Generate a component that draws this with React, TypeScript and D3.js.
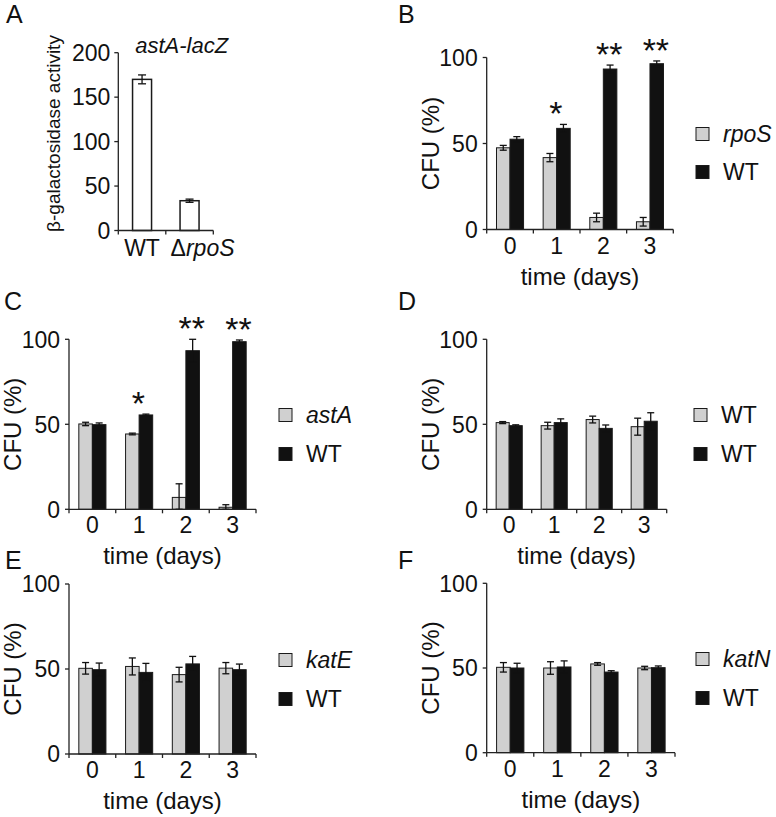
import React from "react";
import * as d3 from "d3";

// ---------- data ----------
const days = ["0", "1", "2", "3"];
const yTicksCFU = [0, 50, 100];

const aCategories = ["WT", "ΔrpoS"];
const aValues = [170, 33.5];
const aErrors = [5, 1.8];
const aTicks = [0, 50, 100, 150, 200];

const bMutant = "rpoS";
const bMutValues = [47.5, 41.8, 7, 4.5];
const bMutErr = [1.4, 2.4, 2.5, 2.5];
const bWtValues = [52.5, 58.8, 93.3, 96.4];
const bWtErr = [1.5, 2.3, 2.3, 1.6];
const bStars = ["", "*", "**", "**"];

const cMutant = "astA";
const cMutValues = [50.2, 44.3, 7, 1.2];
const cMutErr = [1, 0.5, 8, 1.5];
const cWtValues = [49.8, 55.5, 93.3, 98.6];
const cWtErr = [1, 0.5, 6.7, 1];
const cStars = ["", "*", "**", "**"];

const dMutant = "WT";
const dMutValues = [51, 49.2, 52.8, 48.6];
const dMutErr = [0.6, 2, 2, 5];
const dWtValues = [49.2, 51, 47.6, 51.8];
const dWtErr = [0.5, 2.2, 2, 5];

const eMutant = "katE";
const eMutValues = [50.4, 51.5, 46.7, 50.5];
const eMutErr = [3.4, 5, 4.3, 3.3];
const eWtValues = [49.6, 48, 53, 49.6];
const eWtErr = [3.9, 5.3, 4.4, 3.3];

const fMutant = "katN";
const fMutValues = [50.4, 50, 52.4, 50];
const fMutErr = [2.8, 3.7, 0.8, 1];
const fWtValues = [50, 50.6, 47.6, 50.2];
const fWtErr = [2.8, 3.6, 0.8, 1];

// ---------- styles ----------
const FONT = "'Liberation Sans', Arial, Helvetica, sans-serif";
const INK = "#111";
const GRAY = "#d0d0d0";
const BLACK = "#111";

type PanelCfg = {
  letter: string;
  lx: number;
  ly: number;
  x0: number;
  x1: number;
  yTop: number;
  yBot: number;
  mutant: string;
  mutItalic: boolean;
  mutValues: number[];
  mutErr: number[];
  wtValues: number[];
  wtErr: number[];
  stars?: string[];
  legendX: number;
  legendY: number[];
};

const panels: PanelCfg[] = [
  { letter: "B", lx: 398, ly: 23, x0: 486.7, x1: 673.3, yTop: 57.5, yBot: 229.5, mutant: bMutant, mutItalic: true, mutValues: bMutValues, mutErr: bMutErr, wtValues: bWtValues, wtErr: bWtErr, stars: bStars, legendX: 696, legendY: [134, 172] },
  { letter: "C", lx: 4, ly: 310, x0: 69, x1: 256, yTop: 339.3, yBot: 509.3, mutant: cMutant, mutItalic: true, mutValues: cMutValues, mutErr: cMutErr, wtValues: cWtValues, wtErr: cWtErr, stars: cStars, legendX: 279, legendY: [415, 454] },
  { letter: "D", lx: 398, ly: 310, x0: 486.7, x1: 666.7, yTop: 339.3, yBot: 509.3, mutant: dMutant, mutItalic: false, mutValues: dMutValues, mutErr: dMutErr, wtValues: dWtValues, wtErr: dWtErr, legendX: 694, legendY: [415, 454] },
  { letter: "E", lx: 5, ly: 569, x0: 69, x1: 256, yTop: 584, yBot: 754, mutant: eMutant, mutItalic: true, mutValues: eMutValues, mutErr: eMutErr, wtValues: eWtValues, wtErr: eWtErr, legendX: 279, legendY: [660, 699] },
  { letter: "F", lx: 398, ly: 569, x0: 486.7, x1: 675, yTop: 583.3, yBot: 752.7, mutant: fMutant, mutItalic: true, mutValues: fMutValues, mutErr: fMutErr, wtValues: fWtValues, wtErr: fWtErr, legendX: 696, legendY: [659, 698] },
];

const TICK_FS = 23;
const TITLE_FS = 24;
const LEGEND_FS = 23;

function ErrorBar({ x, y1, y2, cap }: { x: number; y1: number; y2: number; cap: number }) {
  return (
    <g stroke={INK} strokeWidth={1.3}>
      <line x1={x} x2={x} y1={y1} y2={y2} />
      <line x1={x - cap / 2} x2={x + cap / 2} y1={y1} y2={y1} />
      <line x1={x - cap / 2} x2={x + cap / 2} y1={y2} y2={y2} />
    </g>
  );
}

function Panel({ cfg }: { cfg: PanelCfg }) {
  const x = d3.scaleBand<string>().domain(days).range([cfg.x0, cfg.x1]).padding(0);
  const y = d3.scaleLinear().domain([0, 100]).range([cfg.yBot, cfg.yTop]);
  const bw = x.bandwidth();
  const pairW = bw * 0.58;
  const inner = d3.scaleBand<string>().domain(["mut", "wt"]).range([0, pairW]).padding(0);
  const boundaries = [...days.map((d) => x(d)!), cfg.x1];
  const series = [
    { key: "mut", values: cfg.mutValues, errs: cfg.mutErr, fill: GRAY },
    { key: "wt", values: cfg.wtValues, errs: cfg.wtErr, fill: BLACK },
  ];
  const legendRows = [
    { label: cfg.mutant, italic: cfg.mutItalic, fill: GRAY },
    { label: "WT", italic: false, fill: BLACK },
  ];
  return (
    <g fontFamily={FONT} fill={INK}>
      <text x={cfg.lx} y={cfg.ly} fontSize={25}>{cfg.letter}</text>
      {series.map((s) =>
        days.map((d, i) => {
          const bx = x(d)! + (bw - pairW) / 2 + inner(s.key)!;
          const v = s.values[i];
          return (
            <rect key={s.key + d} x={bx} y={y(v)} width={inner.bandwidth()} height={y(0) - y(v)} fill={s.fill} stroke="#1a1a1a" strokeWidth={1} />
          );
        })
      )}
      {series.map((s) =>
        days.map((d, i) => {
          const cx = x(d)! + (bw - pairW) / 2 + inner(s.key)! + inner.bandwidth() / 2;
          const v = s.values[i];
          const e = s.errs[i];
          return <ErrorBar key={"e" + s.key + d} x={cx} y1={y(v + e)} y2={y(Math.max(0, v - e))} cap={7} />;
        })
      )}
      {cfg.stars &&
        cfg.stars.map((st, i) =>
          st ? (
            <text key={"s" + i} x={x(days[i])! + 16} y={y(cfg.wtValues[i] + cfg.wtErr[i]) + 1} fontSize={34}>
              {st}
            </text>
          ) : null
        )}
      <line x1={cfg.x0} x2={cfg.x0} y1={y(0)} y2={y(100)} stroke="#222" strokeWidth={1.3} />
      {yTicksCFU.map((t) => (
        <g key={"yt" + t}>
          <line x1={cfg.x0 - 4} x2={cfg.x0} y1={y(t)} y2={y(t)} stroke="#222" strokeWidth={1.3} />
          <text x={cfg.x0 - 9} y={y(t)} dy="0.36em" textAnchor="end" fontSize={TICK_FS}>{t}</text>
        </g>
      ))}
      <line x1={cfg.x0} x2={cfg.x1} y1={y(0)} y2={y(0)} stroke="#222" strokeWidth={1.3} />
      {boundaries.map((bx, i) => (
        <line key={"xt" + i} x1={bx} x2={bx} y1={y(0)} y2={y(0) + 4} stroke="#222" strokeWidth={1.3} />
      ))}
      {days.map((d) => (
        <text key={"xl" + d} x={x(d)! + bw / 2} y={y(0) + 24} textAnchor="middle" fontSize={TICK_FS}>{d}</text>
      ))}
      <text x={(cfg.x0 + cfg.x1) / 2} y={y(0) + 55} textAnchor="middle" fontSize={TITLE_FS}>time (days)</text>
      <text transform={`translate(${cfg.x0 - 48},${(y(0) + y(100)) / 2}) rotate(-90)`} textAnchor="middle" fontSize={TITLE_FS}>CFU (%)</text>
      {legendRows.map((r, i) => (
        <g key={"lg" + i}>
          <rect x={cfg.legendX} y={cfg.legendY[i] - 6.5} width={13} height={13} fill={r.fill} stroke="#1a1a1a" strokeWidth={1} />
          <text x={cfg.legendX + 27} y={cfg.legendY[i]} dy="0.36em" fontSize={LEGEND_FS} fontStyle={r.italic ? "italic" : "normal"}>{r.label}</text>
        </g>
      ))}
    </g>
  );
}

function PanelA() {
  const x0 = 118.3;
  const x1 = 213.3;
  const x = d3.scaleBand<string>().domain(aCategories).range([x0, x1]).padding(0);
  const y = d3.scaleLinear().domain([0, 200]).range([230.5, 52.7]);
  const bw = x.bandwidth();
  const barW = bw * 0.4;
  const labelDx = [0, 13];
  return (
    <g fontFamily={FONT} fill={INK}>
      <text x={6} y={23} fontSize={25}>A</text>
      <text x={181.7} y={52.5} textAnchor="middle" fontSize={22} fontStyle="italic">astA-lacZ</text>
      {aCategories.map((c, i) => {
        const bx = x(c)! + (bw - barW) / 2;
        return (
          <g key={c}>
            <rect x={bx} y={y(aValues[i])} width={barW} height={y(0) - y(aValues[i])} fill="#fff" stroke="#1a1a1a" strokeWidth={1.5} />
            <ErrorBar x={bx + barW / 2} y1={y(aValues[i] + aErrors[i])} y2={y(aValues[i] - aErrors[i])} cap={8} />
          </g>
        );
      })}
      <line x1={x0} x2={x0} y1={y(0)} y2={y(200)} stroke="#222" strokeWidth={1.3} />
      {aTicks.map((t) => (
        <g key={"at" + t}>
          <line x1={x0 - 4} x2={x0} y1={y(t)} y2={y(t)} stroke="#222" strokeWidth={1.3} />
          <text x={x0 - 8} y={y(t)} dy="0.36em" textAnchor="end" fontSize={TICK_FS}>{t}</text>
        </g>
      ))}
      <line x1={x0} x2={x1} y1={y(0)} y2={y(0)} stroke="#222" strokeWidth={1.3} />
      {[...aCategories.map((c) => x(c)!), x1].map((bx, i) => (
        <line key={"ax" + i} x1={bx} x2={bx} y1={y(0)} y2={y(0) + 4} stroke="#222" strokeWidth={1.3} />
      ))}
      {aCategories.map((c, i) => (
        <text key={"al" + c} x={x(c)! + bw / 2 + labelDx[i]} y={y(0) + 25} textAnchor="middle" fontSize={TICK_FS}>
          {c.startsWith("Δ") ? (
            <>
              <tspan>Δ</tspan>
              <tspan fontStyle="italic">{c.slice(1)}</tspan>
            </>
          ) : (
            c
          )}
        </text>
      ))}
      <text transform={`translate(60,133.5) rotate(-90)`} textAnchor="middle" fontSize={19}>β-galactosidase activity</text>
    </g>
  );
}

export default function App() {
  return (
    <svg width={776} height={817} style={{ position: "absolute", left: 0, top: 0, background: "#fff" }}>
      <rect width={776} height={817} fill="#fff" />
      <PanelA />
      {panels.map((p) => (
        <Panel key={p.letter} cfg={p} />
      ))}
    </svg>
  );
}
